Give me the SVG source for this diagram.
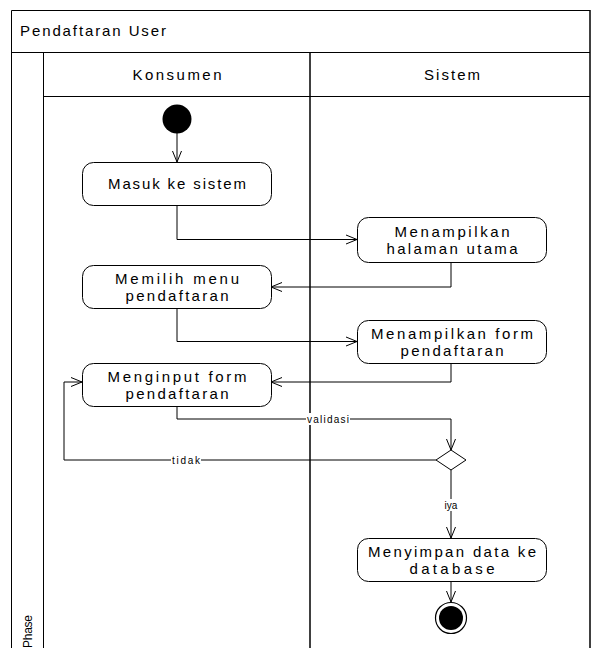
<svg xmlns="http://www.w3.org/2000/svg" width="597" height="648" viewBox="0 0 597 648">
<style>
.frame{fill:none;stroke:#000;stroke-width:1}
.vline{stroke:#000;stroke-width:1.5}
.node{fill:#fff;stroke:#000;stroke-width:1}
.t{font-family:"Liberation Sans",Arial,sans-serif;font-size:15px;fill:#000;text-anchor:middle}
.lbl{font-family:"Liberation Sans",Arial,sans-serif;font-size:10px;fill:#000;text-anchor:middle}
.edge{fill:none;stroke:#000;stroke-width:1}
</style>
<defs>
<marker id="arr" markerUnits="userSpaceOnUse" markerWidth="13" markerHeight="11" refX="11" refY="4.5" orient="auto" overflow="visible">
<path d="M0,0 L11,4.5 L0,9" fill="none" stroke="#000" stroke-width="1"/>
</marker>
</defs>
<rect x="0" y="0" width="597" height="648" fill="#fff"/>
<g id="pool">
<path class="frame" d="M11.5,660 V10.5 H590"/>
<line class="vline" x1="590" y1="10" x2="590" y2="660"/>
<line class="frame" x1="11" y1="52.5" x2="590" y2="52.5"/>
<line class="frame" x1="43.5" y1="52" x2="43.5" y2="660"/>
<line class="frame" x1="43" y1="96.5" x2="590" y2="96.5"/>
<line class="vline" x1="310" y1="52" x2="310" y2="660"/>
<text class="t" x="20" y="36" style="text-anchor:start" textLength="146" lengthAdjust="spacing">Pendaftaran User</text>
<text class="t" x="177" y="80" textLength="89" lengthAdjust="spacing">Konsumen</text>
<text class="t" x="452" y="80" textLength="56" lengthAdjust="spacing">Sistem</text>
<text class="t" x="0" y="0" style="text-anchor:start;font-size:12px" transform="translate(32,648) rotate(-90)" textLength="33" lengthAdjust="spacing">Phase</text>
</g>
<g id="connectors">
<path class="edge" d="M177,133 V162" marker-end="url(#arr)"/>
<path class="edge" d="M177,205 V239.5 H357" marker-end="url(#arr)"/>
<path class="edge" d="M451,262 V287 H271" marker-end="url(#arr)"/>
<path class="edge" d="M177,308 V341.5 H357" marker-end="url(#arr)"/>
<path class="edge" d="M451,363 V382 H271" marker-end="url(#arr)"/>
<path class="edge" d="M177,405 V419 H451 V450" marker-end="url(#arr)"/>
<path class="edge" d="M436,460 H64 V382 H82" marker-end="url(#arr)"/>
<path class="edge" d="M451,470 V538" marker-end="url(#arr)"/>
<path class="edge" d="M451,581 V602" marker-end="url(#arr)"/>
<rect x="306" y="413" width="44" height="12" fill="#fff"/>
<text class="lbl" x="328" y="422.5" textLength="42" lengthAdjust="spacing">validasi</text>
<rect x="171" y="454" width="30" height="12" fill="#fff"/>
<text class="lbl" x="186" y="463.5" textLength="28" lengthAdjust="spacing">tidak</text>
<rect x="443" y="499" width="16" height="12" fill="#fff"/>
<text class="lbl" x="451" y="508.5">iya</text>
</g>
<g id="start">
<circle cx="177" cy="119" r="14.5" fill="#000"/>
</g>
<g id="masuk">
<rect class="node" x="82.5" y="162.5" width="189" height="43" rx="11"/>
<text class="t" x="177" y="188.5" textLength="138" lengthAdjust="spacing">Masuk ke sistem</text>
</g>
<g id="halaman">
<rect class="node" x="357.5" y="217.5" width="189" height="45" rx="11"/>
<text class="t" x="452" y="237" textLength="115" lengthAdjust="spacing">Menampilkan</text>
<text class="t" x="452" y="254" textLength="131" lengthAdjust="spacing">halaman utama</text>
</g>
<g id="memilih">
<rect class="node" x="82.5" y="265.5" width="189" height="43" rx="11"/>
<text class="t" x="177" y="283.5" textLength="124" lengthAdjust="spacing">Memilih menu</text>
<text class="t" x="177" y="300.5" textLength="103" lengthAdjust="spacing">pendaftaran</text>
</g>
<g id="tampilform">
<rect class="node" x="357.5" y="320.5" width="189" height="43" rx="11"/>
<text class="t" x="452" y="338.5" textLength="162" lengthAdjust="spacing">Menampilkan form</text>
<text class="t" x="452" y="355.5" textLength="103" lengthAdjust="spacing">pendaftaran</text>
</g>
<g id="menginput">
<rect class="node" x="82.5" y="363.5" width="189" height="43" rx="11"/>
<text class="t" x="177" y="381.5" textLength="139" lengthAdjust="spacing">Menginput form</text>
<text class="t" x="177" y="398.5" textLength="103" lengthAdjust="spacing">pendaftaran</text>
</g>
<g id="decision">
<polygon class="node" points="451,450 466,460 451,470 436,460"/>
</g>
<g id="menyimpan">
<rect class="node" x="357.5" y="538.5" width="189" height="43" rx="11"/>
<text class="t" x="452" y="556.5" textLength="168" lengthAdjust="spacing">Menyimpan data ke</text>
<text class="t" x="452" y="573.5" textLength="85" lengthAdjust="spacing">database</text>
</g>
<g id="end">
<circle cx="451" cy="618" r="15.5" fill="#fff" stroke="#000" stroke-width="1.2"/>
<circle cx="451" cy="618" r="12" fill="#000"/>
</g>
</svg>
